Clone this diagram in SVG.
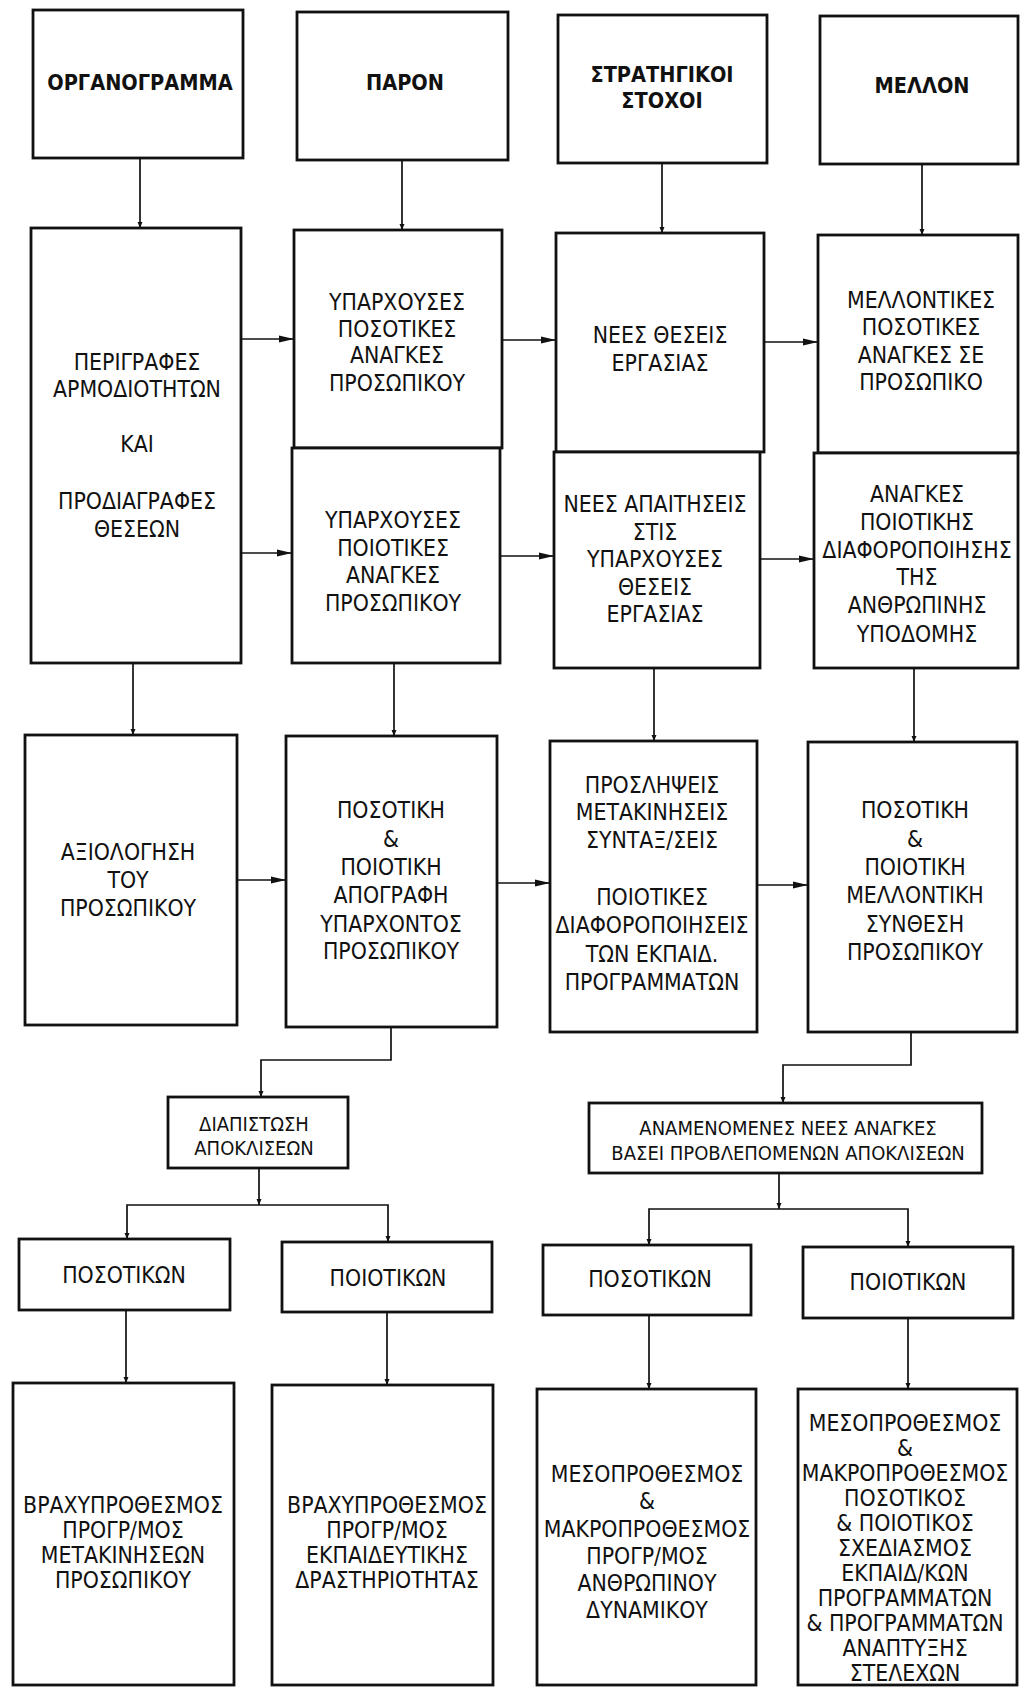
<svg xmlns="http://www.w3.org/2000/svg" width="1020" height="1687" viewBox="0 0 1020 1687">
<defs>
<style>
.box{fill:#fff;stroke:#111;stroke-width:2.8}
.t{font-family:"DejaVu Sans Condensed","DejaVu Sans","Liberation Sans",sans-serif;font-stretch:condensed;font-size:22.8px;fill:#111;text-anchor:middle}
.b{font-weight:bold;font-size:21.5px}
.s{font-size:20px}
.c{fill:none;stroke:#111;stroke-width:1.7}
</style>
<marker id="ah" viewBox="0 0 15 8" refX="15" refY="4" markerWidth="15" markerHeight="8" markerUnits="userSpaceOnUse" orient="auto">
<path d="M0,0.5 L15,4 L0,7.5 Z" fill="#111"/>
</marker>
<marker id="sh" viewBox="0 0 6 6" refX="6" refY="3" markerWidth="6" markerHeight="6" markerUnits="userSpaceOnUse" orient="auto">
<path d="M0,0.5 L6,3 L0,5.5 Z" fill="#111"/>
</marker>
</defs>
<rect width="1020" height="1687" fill="#fff"/>

<g id="connectors">
<line class="c" x1="140" y1="158" x2="140" y2="228" marker-end="url(#sh)"/>
<line class="c" x1="402" y1="160" x2="402" y2="230" marker-end="url(#sh)"/>
<line class="c" x1="662" y1="163" x2="662" y2="233" marker-end="url(#sh)"/>
<line class="c" x1="922" y1="164" x2="922" y2="235" marker-end="url(#sh)"/>
<line class="c" x1="241" y1="339" x2="294" y2="339" marker-end="url(#ah)"/>
<line class="c" x1="502" y1="340" x2="556" y2="340" marker-end="url(#ah)"/>
<line class="c" x1="764" y1="342" x2="818" y2="342" marker-end="url(#ah)"/>
<line class="c" x1="240" y1="553" x2="292" y2="553" marker-end="url(#ah)"/>
<line class="c" x1="500" y1="556" x2="554" y2="556" marker-end="url(#ah)"/>
<line class="c" x1="760" y1="559" x2="814" y2="559" marker-end="url(#ah)"/>
<line class="c" x1="133" y1="663" x2="133" y2="735" marker-end="url(#sh)"/>
<line class="c" x1="394" y1="663" x2="394" y2="736" marker-end="url(#sh)"/>
<line class="c" x1="654" y1="668" x2="654" y2="741" marker-end="url(#sh)"/>
<line class="c" x1="914" y1="668" x2="914" y2="742" marker-end="url(#sh)"/>
<line class="c" x1="237" y1="880" x2="286" y2="880" marker-end="url(#ah)"/>
<line class="c" x1="497" y1="883" x2="550" y2="883" marker-end="url(#ah)"/>
<line class="c" x1="757" y1="885" x2="808" y2="885" marker-end="url(#ah)"/>
<path class="c" d="M391,1027 V1060 H261 V1097" marker-end="url(#sh)"/>
<path class="c" d="M911,1032 V1065 H783 V1103" marker-end="url(#sh)"/>
<path class="c" d="M259,1168 V1205" marker-end="url(#sh)"/>
<path class="c" d="M259,1205 H127 V1239" marker-end="url(#sh)"/>
<path class="c" d="M259,1205 H388 V1242" marker-end="url(#sh)"/>
<path class="c" d="M779,1173 V1209" marker-end="url(#sh)"/>
<path class="c" d="M779,1209 H649 V1245" marker-end="url(#sh)"/>
<path class="c" d="M779,1209 H908 V1247" marker-end="url(#sh)"/>
<line class="c" x1="126" y1="1310" x2="126" y2="1383" marker-end="url(#sh)"/>
<line class="c" x1="387" y1="1312" x2="387" y2="1385" marker-end="url(#sh)"/>
<line class="c" x1="649" y1="1315" x2="649" y2="1389" marker-end="url(#sh)"/>
<line class="c" x1="908" y1="1318" x2="908" y2="1389" marker-end="url(#sh)"/>
</g>

<g id="n-organogramma"><rect class="box" x="33" y="10" width="210" height="148"/>
<text class="t b" x="140" y="90">ΟΡΓΑΝΟΓΡΑΜΜΑ</text></g>
<g id="n-paron"><rect class="box" x="297" y="12" width="211" height="148"/>
<text class="t b" x="405" y="90">ΠΑΡΟΝ</text></g>
<g id="n-stratigikoi"><rect class="box" x="558" y="15" width="209" height="148"/>
<text class="t b" x="662" y="82">ΣΤΡΑΤΗΓΙΚΟΙ</text><text class="t b" x="662" y="108">ΣΤΟΧΟΙ</text></g>
<g id="n-mellon"><rect class="box" x="820" y="16" width="198" height="148"/>
<text class="t b" x="922" y="93">ΜΕΛΛΟΝ</text></g>

<g id="n-perigrafes"><rect class="box" x="31" y="228" width="210" height="435"/>
<text class="t" x="137" y="370">ΠΕΡΙΓΡΑΦΕΣ</text>
<text class="t" x="137" y="397">ΑΡΜΟΔΙΟΤΗΤΩΝ</text>
<text class="t" x="137" y="452">ΚΑΙ</text>
<text class="t" x="137" y="509">ΠΡΟΔΙΑΓΡΑΦΕΣ</text>
<text class="t" x="137" y="537">ΘΕΣΕΩΝ</text></g>

<g id="n-yparx-posotikes"><rect class="box" x="294" y="230" width="208" height="218"/>
<text class="t" x="397" y="310">ΥΠΑΡΧΟΥΣΕΣ</text>
<text class="t" x="397" y="337">ΠΟΣΟΤΙΚΕΣ</text>
<text class="t" x="397" y="363">ΑΝΑΓΚΕΣ</text>
<text class="t" x="397" y="391">ΠΡΟΣΩΠΙΚΟΥ</text></g>
<g id="n-yparx-poiotikes"><rect class="box" x="292" y="448" width="208" height="215"/>
<text class="t" x="393" y="528">ΥΠΑΡΧΟΥΣΕΣ</text>
<text class="t" x="393" y="556">ΠΟΙΟΤΙΚΕΣ</text>
<text class="t" x="393" y="583">ΑΝΑΓΚΕΣ</text>
<text class="t" x="393" y="611">ΠΡΟΣΩΠΙΚΟΥ</text></g>

<g id="n-nees-theseis"><rect class="box" x="556" y="233" width="208" height="219"/>
<text class="t" x="660" y="343">ΝΕΕΣ ΘΕΣΕΙΣ</text>
<text class="t" x="660" y="371">ΕΡΓΑΣΙΑΣ</text></g>
<g id="n-nees-apaitiseis"><rect class="box" x="554" y="452" width="206" height="216"/>
<text class="t" x="655" y="512">ΝΕΕΣ ΑΠΑΙΤΗΣΕΙΣ</text>
<text class="t" x="655" y="539.5">ΣΤΙΣ</text>
<text class="t" x="655" y="567">ΥΠΑΡΧΟΥΣΕΣ</text>
<text class="t" x="655" y="594.5">ΘΕΣΕΙΣ</text>
<text class="t" x="655" y="622">ΕΡΓΑΣΙΑΣ</text></g>

<g id="n-mellontikes"><rect class="box" x="818" y="235" width="200" height="218"/>
<text class="t" x="921" y="308">ΜΕΛΛΟΝΤΙΚΕΣ</text>
<text class="t" x="921" y="335">ΠΟΣΟΤΙΚΕΣ</text>
<text class="t" x="921" y="363">ΑΝΑΓΚΕΣ ΣΕ</text>
<text class="t" x="921" y="390">ΠΡΟΣΩΠΙΚΟ</text></g>
<g id="n-anagkes"><rect class="box" x="814" y="453" width="204" height="215"/>
<text class="t" x="917" y="502">ΑΝΑΓΚΕΣ</text>
<text class="t" x="917" y="530">ΠΟΙΟΤΙΚΗΣ</text>
<text class="t" x="917" y="558">ΔΙΑΦΟΡΟΠΟΙΗΣΗΣ</text>
<text class="t" x="917" y="585">ΤΗΣ</text>
<text class="t" x="917" y="613">ΑΝΘΡΩΠΙΝΗΣ</text>
<text class="t" x="917" y="642">ΥΠΟΔΟΜΗΣ</text></g>

<g id="n-axiologisi"><rect class="box" x="25" y="735" width="212" height="290"/>
<text class="t" x="128" y="860">ΑΞΙΟΛΟΓΗΣΗ</text>
<text class="t" x="128" y="888">ΤΟΥ</text>
<text class="t" x="128" y="916">ΠΡΟΣΩΠΙΚΟΥ</text></g>
<g id="n-apografi"><rect class="box" x="286" y="736" width="211" height="291"/>
<text class="t" x="391" y="818">ΠΟΣΟΤΙΚΗ</text>
<text class="t" x="391" y="847">&amp;</text>
<text class="t" x="391" y="875">ΠΟΙΟΤΙΚΗ</text>
<text class="t" x="391" y="903">ΑΠΟΓΡΑΦΗ</text>
<text class="t" x="391" y="932">ΥΠΑΡΧΟΝΤΟΣ</text>
<text class="t" x="391" y="959">ΠΡΟΣΩΠΙΚΟΥ</text></g>
<g id="n-proslipseis"><rect class="box" x="550" y="741" width="207" height="291"/>
<text class="t" x="652" y="793">ΠΡΟΣΛΗΨΕΙΣ</text>
<text class="t" x="652" y="820">ΜΕΤΑΚΙΝΗΣΕΙΣ</text>
<text class="t" x="652" y="848">ΣΥΝΤΑΞ/ΣΕΙΣ</text>
<text class="t" x="652" y="905">ΠΟΙΟΤΙΚΕΣ</text>
<text class="t" x="652" y="933">ΔΙΑΦΟΡΟΠΟΙΗΣΕΙΣ</text>
<text class="t" x="652" y="962">ΤΩΝ ΕΚΠΑΙΔ.</text>
<text class="t" x="652" y="990">ΠΡΟΓΡΑΜΜΑΤΩΝ</text></g>
<g id="n-synthesi"><rect class="box" x="808" y="742" width="209" height="290"/>
<text class="t" x="915" y="818">ΠΟΣΟΤΙΚΗ</text>
<text class="t" x="915" y="847">&amp;</text>
<text class="t" x="915" y="875">ΠΟΙΟΤΙΚΗ</text>
<text class="t" x="915" y="903">ΜΕΛΛΟΝΤΙΚΗ</text>
<text class="t" x="915" y="932">ΣΥΝΘΕΣΗ</text>
<text class="t" x="915" y="960">ΠΡΟΣΩΠΙΚΟΥ</text></g>

<g id="n-diapistosi"><rect class="box" x="168" y="1097" width="180" height="71"/>
<text class="t s" x="254" y="1131">ΔΙΑΠΙΣΤΩΣΗ</text>
<text class="t s" x="254" y="1155">ΑΠΟΚΛΙΣΕΩΝ</text></g>
<g id="n-anamenomenes"><rect class="box" x="589" y="1103" width="393" height="70"/>
<text class="t s" x="788" y="1135">ΑΝΑΜΕΝΟΜΕΝΕΣ ΝΕΕΣ ΑΝΑΓΚΕΣ</text>
<text class="t s" x="788" y="1160">ΒΑΣΕΙ ΠΡΟΒΛΕΠΟΜΕΝΩΝ ΑΠΟΚΛΙΣΕΩΝ</text></g>

<g id="n-posotikon-1"><rect class="box" x="19" y="1239" width="211" height="71"/>
<text class="t" x="124" y="1283">ΠΟΣΟΤΙΚΩΝ</text></g>
<g id="n-poiotikon-1"><rect class="box" x="282" y="1242" width="210" height="70"/>
<text class="t" x="388" y="1286">ΠΟΙΟΤΙΚΩΝ</text></g>
<g id="n-posotikon-2"><rect class="box" x="543" y="1245" width="208" height="70"/>
<text class="t" x="650" y="1287">ΠΟΣΟΤΙΚΩΝ</text></g>
<g id="n-poiotikon-2"><rect class="box" x="803" y="1247" width="210" height="71"/>
<text class="t" x="908" y="1290">ΠΟΙΟΤΙΚΩΝ</text></g>

<g id="n-brax-metakiniseon"><rect class="box" x="13" y="1383" width="221" height="302"/>
<text class="t" x="123" y="1513">ΒΡΑΧΥΠΡΟΘΕΣΜΟΣ</text>
<text class="t" x="123" y="1538">ΠΡΟΓΡ/ΜΟΣ</text>
<text class="t" x="123" y="1563">ΜΕΤΑΚΙΝΗΣΕΩΝ</text>
<text class="t" x="123" y="1588">ΠΡΟΣΩΠΙΚΟΥ</text></g>
<g id="n-brax-ekpaideusis"><rect class="box" x="272" y="1385" width="221" height="300"/>
<text class="t" x="387" y="1513">ΒΡΑΧΥΠΡΟΘΕΣΜΟΣ</text>
<text class="t" x="387" y="1538">ΠΡΟΓΡ/ΜΟΣ</text>
<text class="t" x="387" y="1563">ΕΚΠΑΙΔΕΥΤΙΚΗΣ</text>
<text class="t" x="387" y="1588">ΔΡΑΣΤΗΡΙΟΤΗΤΑΣ</text></g>
<g id="n-meso-dynamikou"><rect class="box" x="537" y="1389" width="219" height="296"/>
<text class="t" x="647" y="1482">ΜΕΣΟΠΡΟΘΕΣΜΟΣ</text>
<text class="t" x="647" y="1509">&amp;</text>
<text class="t" x="647" y="1537">ΜΑΚΡΟΠΡΟΘΕΣΜΟΣ</text>
<text class="t" x="647" y="1564">ΠΡΟΓΡ/ΜΟΣ</text>
<text class="t" x="647" y="1591">ΑΝΘΡΩΠΙΝΟΥ</text>
<text class="t" x="647" y="1618">ΔΥΝΑΜΙΚΟΥ</text></g>
<g id="n-meso-stelexon"><rect class="box" x="798" y="1389" width="219" height="296"/>
<text class="t" x="905" y="1431">ΜΕΣΟΠΡΟΘΕΣΜΟΣ</text>
<text class="t" x="905" y="1456">&amp;</text>
<text class="t" x="905" y="1481">ΜΑΚΡΟΠΡΟΘΕΣΜΟΣ</text>
<text class="t" x="905" y="1506">ΠΟΣΟΤΙΚΟΣ</text>
<text class="t" x="905" y="1531">&amp; ΠΟΙΟΤΙΚΟΣ</text>
<text class="t" x="905" y="1556">ΣΧΕΔΙΑΣΜΟΣ</text>
<text class="t" x="905" y="1581">ΕΚΠΑΙΔ/ΚΩΝ</text>
<text class="t" x="905" y="1606">ΠΡΟΓΡΑΜΜΑΤΩΝ</text>
<text class="t" x="905" y="1631">&amp; ΠΡΟΓΡΑΜΜΑΤΩΝ</text>
<text class="t" x="905" y="1656">ΑΝΑΠΤΥΞΗΣ</text>
<text class="t" x="905" y="1681">ΣΤΕΛΕΧΩΝ</text></g>
</svg>
